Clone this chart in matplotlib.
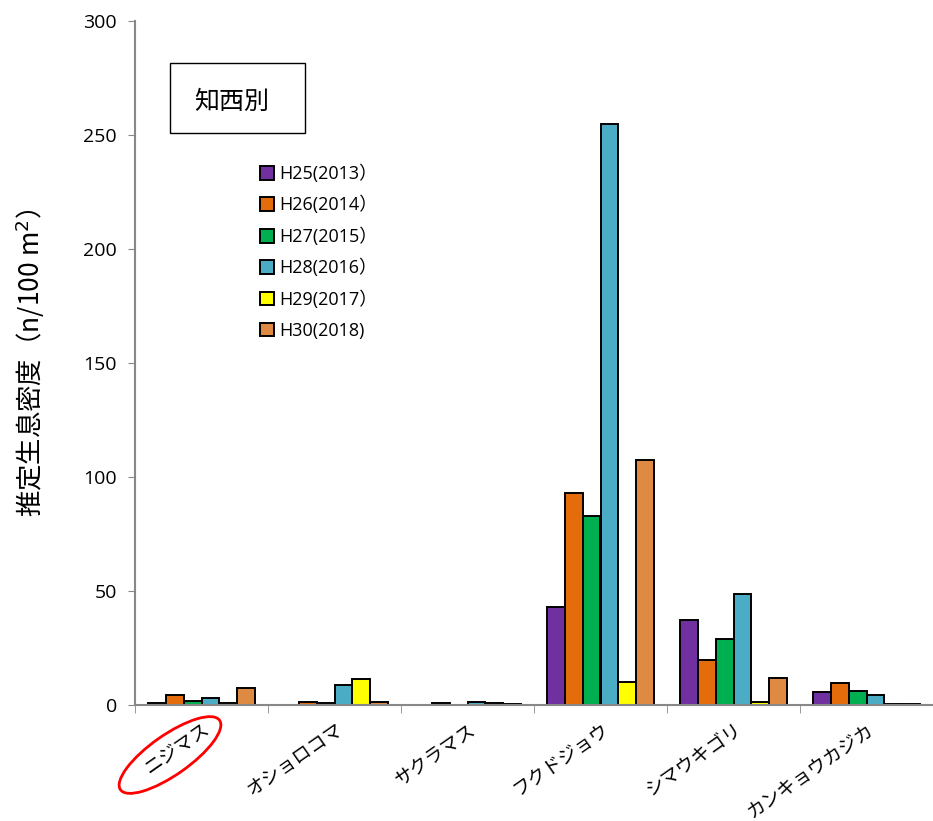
import numpy as np
import matplotlib.pyplot as plt
from matplotlib.patches import Ellipse, Rectangle
from matplotlib.transforms import IdentityTransform

plt.rcParams['font.family'] = ['Open Sans', 'Noto Sans CJK JP', 'DejaVu Sans']
jp = ['Noto Sans CJK JP', 'DejaVu Sans']

# Species (x categories) and yearly density per 100 m2
species = ['ニジマス', 'オショロコマ', 'サクラマス', 'フクドジョウ', 'シマウキゴリ', 'カンキョウカジカ']
years = ['H25(2013）', 'H26(2014）', 'H27(2015）', 'H28(2016）', 'H29(2017）', 'H30(2018)']
h25 = [0.7, 0.0, 0.0, 42.8, 37.1, 5.7]
h26 = [4.2, 1.2, 0.7, 93.0, 19.7, 9.5]
h27 = [1.9, 0.9, 0.0, 82.9, 28.8, 6.0]
h28 = [3.1, 8.8, 1.3, 254.8, 48.5, 4.5]
h29 = [1.0, 11.4, 0.7, 10.2, 1.5, 0.3]
h30 = [7.3, 1.2, 0.4, 107.5, 11.8, 0.6]
colors = ['#7030A0', '#E46C0A', '#00B050', '#4BACC6', '#FFFF00', '#DE8A43']

series = [h25, h26, h27, h28, h29, h30]

fig = plt.figure(figsize=(9.33, 8.21), dpi=100)
ax = fig.add_axes([135 / 933, 1 - 705 / 821, (933 - 135) / 933, (705 - 21) / 821])

x = np.arange(len(species))
w = 0.134
for k, (vals, c, lab) in enumerate(zip(series, colors, years)):
    ax.bar(x + (k - 2.5) * w, vals, width=w, color=c, edgecolor='black',
           linewidth=1.4, label=lab)

ax.set_ylim(0, 300)
ax.set_xlim(-0.5, 5.455)
ax.set_yticks(range(0, 301, 50))
ax.tick_params(axis='y', labelsize=14, length=5, color='#888888', pad=8)
ax.set_xticks(x)
ax.set_xticklabels(species, rotation=35, ha='right', rotation_mode='anchor',
                   fontsize=13.5, family=jp)
ax.tick_params(axis='x', which='major', length=0, pad=10)
ax.set_xticks(np.arange(-0.5, 6, 1), minor=True)
ax.tick_params(axis='x', which='minor', length=6, color='#888888')
for s in ['top', 'right']:
    ax.spines[s].set_visible(False)
for s in ['left', 'bottom']:
    ax.spines[s].set_color('#888888')
    ax.spines[s].set_linewidth(1.5)

ax.set_ylabel('推定生息密度（n/100 m$^{2}$）', fontsize=19, labelpad=26, family=jp)

ax.legend(loc='upper left', bbox_to_anchor=(0.136, 0.814), frameon=False,
          fontsize=13, handlelength=0.8, handleheight=0.8, handletextpad=0.3,
          labelspacing=0.72)

# site name box
fig.add_artist(Rectangle((170, 821 - 133), 135, 70, fill=False, edgecolor='black',
                         linewidth=1, transform=IdentityTransform()))
fig.text(232 / 933, 1 - 102 / 821, '知西別', fontsize=18, ha='center', va='center',
         family=jp)

# red ellipse around the first species label
fig.add_artist(Ellipse((170, 821 - 755), 121, 40, angle=35, fill=False,
                       edgecolor='red', linewidth=2, transform=IdentityTransform()))

fig.savefig('out.png', dpi=100)
